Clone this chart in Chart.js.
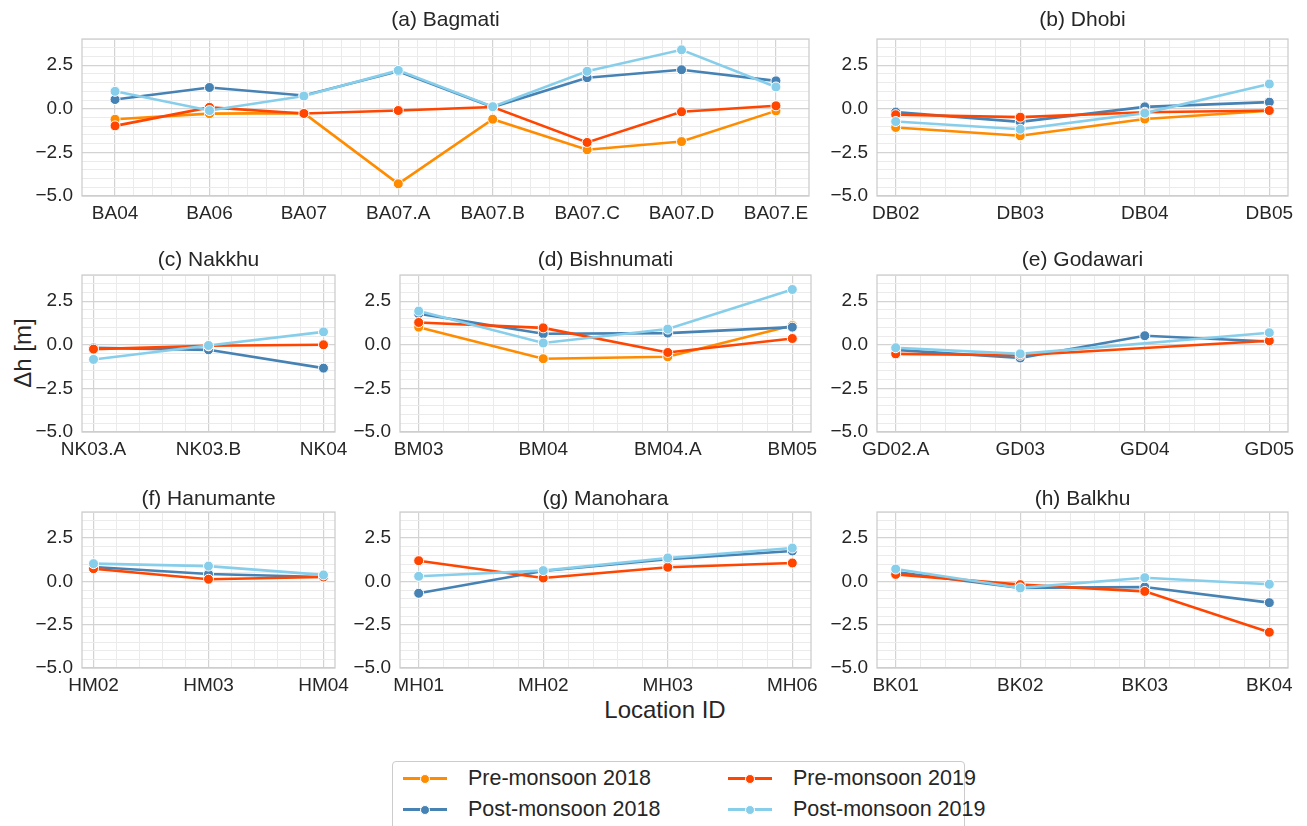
<!DOCTYPE html>
<html>
<head>
<meta charset="utf-8">
<title>Δh by location</title>
<script src="https://cdn.jsdelivr.net/npm/chart.js@4.4.1/dist/chart.umd.min.js"></script>
<style>
  html, body { margin: 0; padding: 0; background: #ffffff; }
  body { position: relative; width: 1307px; height: 826px; overflow: hidden;
         font-family: "Liberation Sans", Arial, sans-serif; color: #262626; }
  .panel { position: absolute; }
  .panel canvas { display: block; }
  #ylab { position: absolute; left: 23px; top: 353px; font-size: 24px; white-space: nowrap;
          transform: translate(-50%, -50%) rotate(-90deg); }
  #xlab { position: absolute; left: 665px; top: 710px; font-size: 24px; white-space: nowrap;
          transform: translate(-50%, -50%); }
  #legend { position: absolute; left: 392px; top: 761px; width: 573px; height: 80px;
            border: 1px solid #cccccc; border-radius: 4px; box-sizing: border-box; background: #fff; }
  .leg-item { position: absolute; height: 26px; display: flex; align-items: center; white-space: nowrap;
              font-size: 21.5px; transform: translateY(-50%); }
  .leg-handle { position: relative; width: 44px; height: 26px; margin-right: 21px; }
  .leg-line { position: absolute; left: 0; right: 0; top: 12px; height: 2.5px; }
  .leg-dot { position: absolute; left: 17px; top: 8.5px; width: 10px; height: 10px; border-radius: 50%;
             box-sizing: border-box; border: 1px solid #fff; }
</style>
</head>
<body>
<div id="ylab">Δh [m]</div>
<div id="xlab">Location ID</div>
<div id="legend"></div>

<script>
// ---- Surveys (series) ----
const seasons = ['Pre-monsoon 2018', 'Post-monsoon 2018', 'Pre-monsoon 2019', 'Post-monsoon 2019'];
const seasonColors = ['#ff8c00', '#4682b4', '#ff4500', '#87ceeb'];

// ---- Y axis ----
const yMin = -5.0;
const yMax = 4.0;
const yTickValues = [-5.0, -2.5, 0.0, 2.5];
const yTickLabels = ['\u22125.0', '\u22122.5', '0.0', '2.5'];

// ---- (a) Bagmati ----
const bagmatiSites    = ['BA04', 'BA06', 'BA07', 'BA07.A', 'BA07.B', 'BA07.C', 'BA07.D', 'BA07.E'];
const bagmatiPre2018  = [-0.60, -0.28, -0.25, -4.30, -0.60, -2.35, -1.88, -0.12];
const bagmatiPost2018 = [ 0.53,  1.22,  0.76,  2.15,  0.10,  1.78,  2.24,  1.60];
const bagmatiPre2019  = [-0.98,  0.08, -0.27, -0.10,  0.10, -1.93, -0.17,  0.17];
const bagmatiPost2019 = [ 1.00, -0.10,  0.73,  2.20,  0.12,  2.15,  3.38,  1.25];

// ---- (b) Dhobi ----
const dhobiSites    = ['DB02', 'DB03', 'DB04', 'DB05'];
const dhobiPre2018  = [-1.07, -1.55, -0.59, -0.11];
const dhobiPost2018 = [-0.19, -0.75,  0.11,  0.38];
const dhobiPre2019  = [-0.34, -0.48, -0.20, -0.10];
const dhobiPost2019 = [-0.73, -1.17, -0.25,  1.42];

// ---- (c) Nakkhu ----
const nakkhuSites    = ['NK03.A', 'NK03.B', 'NK04'];
const nakkhuPost2018 = [-0.18, -0.29, -1.34];
const nakkhuPre2019  = [-0.25, -0.06,  0.00];
const nakkhuPost2019 = [-0.84, -0.04,  0.74];

// ---- (d) Bishnumati ----
const bishnumatiSites    = ['BM03', 'BM04', 'BM04.A', 'BM05'];
const bishnumatiPre2018  = [1.01, -0.80, -0.69, 1.10];
const bishnumatiPost2018 = [1.78,  0.63,  0.67, 1.01];
const bishnumatiPre2019  = [1.28,  0.97, -0.44, 0.36];
const bishnumatiPost2019 = [1.93,  0.10,  0.90, 3.17];

// ---- (e) Godawari (no 2019 reading at GD04) ----
const godawariSites    = ['GD02.A', 'GD03', 'GD04', 'GD05'];
const godawariPost2018 = [-0.29, -0.76, 0.52, 0.19];
const godawariPre2019  = [-0.52, -0.60, null, 0.23];
const godawariPost2019 = [-0.17, -0.52, null, 0.69];

// ---- (f) Hanumante ----
const hanumanteSites    = ['HM02', 'HM03', 'HM04'];
const hanumantePost2018 = [0.83, 0.42, 0.25];
const hanumantePre2019  = [0.73, 0.12, 0.25];
const hanumantePost2019 = [1.02, 0.88, 0.37];

// ---- (g) Manohara ----
const manoharaSites    = ['MH01', 'MH02', 'MH03', 'MH06'];
const manoharaPost2018 = [-0.69, 0.60, 1.27, 1.75];
const manoharaPre2019  = [ 1.19, 0.19, 0.81, 1.06];
const manoharaPost2019 = [ 0.29, 0.62, 1.35, 1.92];

// ---- (h) Balkhu ----
const balkhuSites    = ['BK01', 'BK02', 'BK03', 'BK04'];
const balkhuPost2018 = [0.54, -0.38, -0.33, -1.23];
const balkhuPre2019  = [0.40, -0.19, -0.58, -2.94];
const balkhuPost2019 = [0.71, -0.38,  0.21, -0.17];

// ---- Layout of the 3x3 grid (plot-area boxes, px) ----
const FONT = '"Liberation Sans", Arial, sans-serif';
const TEXT = '#262626';
const TICK_SIZE = 19, TITLE_SIZE = 21;
const Y_AXIS_W = 70, X_AXIS_H = 36, TITLE_H = 44, PAD_R = 36;
const ROW = [
  { T: 39,  B: 196, gap: 6.4 },
  { T: 275, B: 432, gap: 2.4 },
  { T: 512, B: 668, gap: 0.4 }
];
const COL_NARROW = { L: 82, R: 335 };
const COL_MID    = { L: 400, R: 811 };
const COL_RIGHT  = { L: 877, R: 1288 };
const COL_WIDE   = { L: 82, R: 809 };

const panels = [
  { title: '(a) Bagmati',    sites: bagmatiSites,    row: ROW[0], col: COL_WIDE,
    series: [bagmatiPre2018, bagmatiPost2018, bagmatiPre2019, bagmatiPost2019] },
  { title: '(b) Dhobi',      sites: dhobiSites,      row: ROW[0], col: COL_RIGHT,
    series: [dhobiPre2018, dhobiPost2018, dhobiPre2019, dhobiPost2019] },
  { title: '(c) Nakkhu',     sites: nakkhuSites,     row: ROW[1], col: COL_NARROW,
    series: [null, nakkhuPost2018, nakkhuPre2019, nakkhuPost2019] },
  { title: '(d) Bishnumati', sites: bishnumatiSites, row: ROW[1], col: COL_MID,
    series: [bishnumatiPre2018, bishnumatiPost2018, bishnumatiPre2019, bishnumatiPost2019] },
  { title: '(e) Godawari',   sites: godawariSites,   row: ROW[1], col: COL_RIGHT,
    series: [null, godawariPost2018, godawariPre2019, godawariPost2019] },
  { title: '(f) Hanumante',  sites: hanumanteSites,  row: ROW[2], col: COL_NARROW,
    series: [null, hanumantePost2018, hanumantePre2019, hanumantePost2019] },
  { title: '(g) Manohara',   sites: manoharaSites,   row: ROW[2], col: COL_MID,
    series: [null, manoharaPost2018, manoharaPre2019, manoharaPost2019] },
  { title: '(h) Balkhu',     sites: balkhuSites,     row: ROW[2], col: COL_RIGHT,
    series: [null, balkhuPost2018, balkhuPre2019, balkhuPost2019] }
];

const GRID_MAJOR = '#d3d3d3';
const GRID_MINOR = '#ebebeb';
const isWhole = v => Math.abs(v - Math.round(v)) < 1e-6;
const isMajorY = v => Math.abs(v / 2.5 - Math.round(v / 2.5)) < 1e-6;

// light box around each plot area
const framePlugin = {
  id: 'frame',
  beforeDatasetsDraw(chart) {
    const { ctx, chartArea: a } = chart;
    ctx.save();
    ctx.strokeStyle = '#cccccc';
    ctx.lineWidth = 1.25;
    ctx.strokeRect(a.left, a.top, a.right - a.left, a.bottom - a.top);
    ctx.restore();
  }
};

function buildPanel(p) {
  const left = p.col.L - Y_AXIS_W;
  const top = p.row.T - TITLE_H;
  const width = p.col.R + PAD_R - left;
  const height = p.row.B + X_AXIS_H - top;

  const holder = document.createElement('div');
  holder.className = 'panel';
  Object.assign(holder.style, { left: left + 'px', top: top + 'px', width: width + 'px', height: height + 'px' });
  const canvas = document.createElement('canvas');
  holder.appendChild(canvas);
  document.body.appendChild(holder);

  const n = p.sites.length;
  const margin = 0.05 * (n - 1);

  const datasets = [];
  p.series.forEach((vals, k) => {
    if (!vals) return;
    datasets.push({
      label: seasons[k],
      data: vals.map((v, i) => ({ x: i, y: v })),
      borderColor: seasonColors[k],
      backgroundColor: seasonColors[k],
      pointBackgroundColor: seasonColors[k],
      pointBorderColor: '#ffffff',
      pointBorderWidth: 1,
      pointRadius: 5,
      borderWidth: 2.6,
      tension: 0,
      spanGaps: true,
      order: 4 - k
    });
  });

  const pad = p.row.gap;
  new Chart(canvas, {
    type: 'line',
    data: { datasets },
    options: {
      responsive: true,
      maintainAspectRatio: false,
      animation: false,
      events: [],
      layout: { padding: { left: 0, right: PAD_R, top: 0, bottom: 0 } },
      plugins: {
        legend: { display: false },
        tooltip: { enabled: false },
        title: {
          display: true,
          text: p.title,
          fullSize: false,
          color: TEXT,
          font: { family: FONT, size: TITLE_SIZE, weight: 'normal' },
          padding: { top: TITLE_H - TITLE_SIZE * 1.2 - pad, bottom: pad }
        }
      },
      scales: {
        x: {
          type: 'linear',
          min: -margin,
          max: n - 1 + margin,
          afterBuildTicks: s => {
            const t = [];
            for (let j = 0; j <= (n - 1) * 5; j++) t.push({ value: Math.round(j * 0.2 * 1000) / 1000 });
            s.ticks = t;
          },
          afterFit: s => { s.height = X_AXIS_H; },
          ticks: {
            autoSkip: false, maxRotation: 0, minRotation: 0, padding: 6,
            color: TEXT, font: { family: FONT, size: TICK_SIZE },
            callback: v => isWhole(v) ? p.sites[Math.round(v)] : ''
          },
          grid: {
            drawTicks: false,
            color: c => (c.tick && isWhole(c.tick.value)) ? GRID_MAJOR : GRID_MINOR,
            lineWidth: c => (c.tick && isWhole(c.tick.value)) ? 1.2 : 1
          },
          border: { display: false }
        },
        y: {
          type: 'linear',
          min: yMin,
          max: yMax,
          afterBuildTicks: s => {
            const t = [];
            for (let v = yMin; v <= yMax + 1e-9; v += 0.5) t.push({ value: Math.round(v * 10) / 10 });
            s.ticks = t;
          },
          afterFit: s => { s.width = Y_AXIS_W; },
          ticks: {
            autoSkip: false, padding: 9,
            color: TEXT, font: { family: FONT, size: TICK_SIZE },
            callback: v => {
              const idx = yTickValues.findIndex(t => Math.abs(t - v) < 1e-6);
              return idx >= 0 ? yTickLabels[idx] : '';
            }
          },
          grid: {
            drawTicks: false,
            color: c => (c.tick && isMajorY(c.tick.value)) ? GRID_MAJOR : GRID_MINOR,
            lineWidth: c => (c.tick && isMajorY(c.tick.value)) ? 1.2 : 1
          },
          border: { display: false }
        }
      }
    },
    plugins: [framePlugin]
  });
}

panels.forEach(buildPanel);

// ---- shared legend, two columns filled top-to-bottom ----
const legend = document.getElementById('legend');
seasons.forEach((name, k) => {
  const col = Math.floor(k / 2), row = k % 2;
  const item = document.createElement('div');
  item.className = 'leg-item';
  item.style.left = (10 + col * 325) + 'px';
  item.style.top = (16 + row * 31) + 'px';
  const handle = document.createElement('div');
  handle.className = 'leg-handle';
  const line = document.createElement('div');
  line.className = 'leg-line';
  line.style.background = seasonColors[k];
  const dot = document.createElement('div');
  dot.className = 'leg-dot';
  dot.style.background = seasonColors[k];
  handle.appendChild(line);
  handle.appendChild(dot);
  const label = document.createElement('span');
  label.textContent = name;
  item.appendChild(handle);
  item.appendChild(label);
  legend.appendChild(item);
});
</script>
</body>
</html>
